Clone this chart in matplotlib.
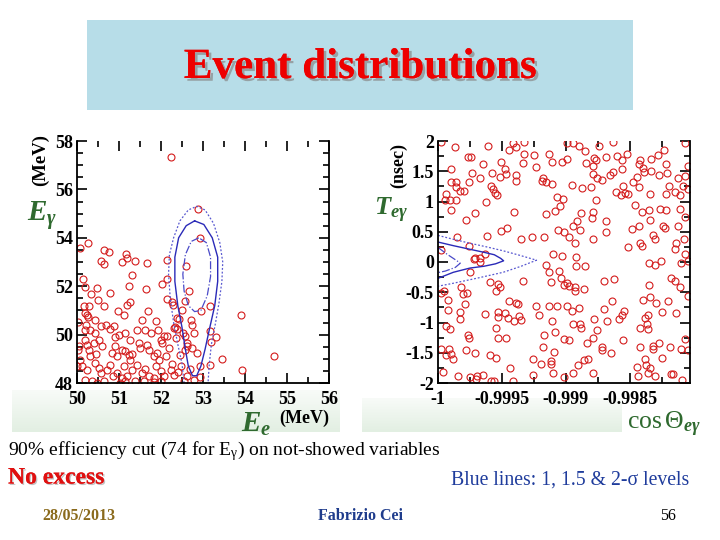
import numpy as np
import matplotlib
matplotlib.use("Agg")
import matplotlib.pyplot as plt
import matplotlib.patheffects as pe
from matplotlib.patches import Rectangle
from matplotlib.colors import LinearSegmentedColormap
from matplotlib.ticker import MultipleLocator, FixedLocator

plt.rcParams['font.family'] = ['Liberation Serif', 'DejaVu Serif']
plt.rcParams['mathtext.fontset'] = 'custom'
plt.rcParams['mathtext.rm'] = 'Liberation Serif'
plt.rcParams['mathtext.it'] = 'Liberation Serif:italic:bold'
plt.rcParams['mathtext.bf'] = 'Liberation Serif:bold'

# ---------------- data ----------------
# left panel: (E_e, E_gamma) in MeV
ee_eg_events = np.array([
    [52.24, 57.35], [52.88, 55.17], [52.92, 54.00], [50.25, 53.77], [50.06, 53.59], [50.64, 53.48],
    [50.76, 53.42], [51.17, 53.31], [51.19, 53.17], [51.07, 53.00], [50.56, 53.03], [50.65, 52.90],
    [51.37, 53.05], [51.67, 52.94], [52.15, 53.10], [52.59, 52.83], [50.14, 52.28], [51.31, 52.46],
    [50.18, 51.96], [51.23, 52.00], [50.48, 51.93], [52.15, 52.28], [52.03, 52.08], [51.65, 51.89],
    [50.33, 51.66], [50.79, 51.72], [50.16, 51.17], [50.29, 51.17], [50.50, 51.42], [51.26, 51.34],
    [51.19, 51.23], [50.64, 51.17], [50.97, 50.97], [51.13, 50.83], [51.69, 50.98], [52.15, 51.48],
    [52.27, 51.34], [52.29, 51.24], [52.66, 51.79], [52.56, 51.38], [53.16, 51.17], [52.95, 50.97],
    [53.90, 50.83], [50.20, 50.90],
    [52.50, 51.03], [52.37, 50.69], [52.42, 50.65], [52.72, 50.59], [52.74, 50.41], [52.34, 50.32],
    [52.38, 50.23], [52.53, 50.07], [52.56, 49.96], [52.78, 50.07], [53.30, 49.90], [53.20, 49.68],
    [52.61, 49.66], [52.62, 49.52], [52.58, 49.38], [52.74, 49.45], [52.86, 49.24], [53.46, 48.99],
    [52.46, 49.17], [53.94, 48.55], [54.68, 49.10], [53.16, 50.14],
    [52.70, 48.58], [52.94, 48.69], [53.16, 48.76], [52.93, 48.23], [52.54, 48.07], [52.47, 48.69],
    [52.27, 48.79], [52.23, 48.55], [52.31, 48.34], [52.78, 48.14], [52.15, 49.93], [52.31, 50.28],
    [52.35, 49.86], [52.20, 49.45], [52.12, 49.10], [52.40, 48.45], [52.62, 48.30],
    [50.02, 50.51], [50.24, 50.83], [50.26, 50.73], [50.22, 50.41], [50.42, 50.59], [50.56, 50.34],
    [50.68, 50.41], [50.78, 50.23], [50.18, 50.21], [50.32, 50.21], [50.42, 50.07], [50.87, 50.34],
    [50.90, 49.90], [50.99, 50.00], [51.15, 50.07], [51.27, 49.79], [51.43, 50.21], [51.55, 50.62],
    [51.63, 50.21], [51.75, 50.07], [51.87, 50.55], [51.93, 50.21], [51.99, 49.79], [52.07, 49.93],
    [52.03, 49.66], [50.04, 49.52], [50.02, 49.38], [50.08, 48.97], [50.00, 48.69], [50.20, 49.79],
    [50.24, 49.59], [50.29, 49.38], [50.40, 49.66], [50.52, 49.79], [50.60, 49.52], [50.45, 49.21],
    [50.32, 49.13], [50.91, 49.52], [50.83, 49.24], [50.95, 49.10], [51.07, 49.38], [51.15, 49.31],
    [51.23, 49.17], [51.31, 49.21], [51.27, 48.97], [51.47, 49.66], [51.51, 49.45], [51.67, 49.59],
    [51.71, 49.38], [51.83, 49.10], [51.91, 49.24], [51.95, 48.97], [50.12, 48.69], [50.24, 48.55],
    [50.44, 48.83], [50.52, 48.62], [50.56, 48.41], [50.72, 48.55], [50.79, 48.76], [50.85, 48.28],
    [50.95, 48.41], [51.07, 48.21], [51.19, 48.28], [51.11, 48.69], [51.31, 48.55], [51.43, 48.76],
    [51.55, 48.41], [51.63, 48.58], [51.71, 48.28], [51.83, 48.21], [51.87, 48.69], [51.99, 48.48],
    [52.07, 48.28], [50.20, 48.14], [50.36, 48.07], [50.48, 48.00], [50.64, 48.07], [51.03, 48.00],
    [51.15, 48.07], [51.39, 48.07], [51.59, 48.07], [51.83, 48.03], [51.99, 48.07],
])

# right panel: (cos(theta)+1) x 1e4 and T_e-gamma in nsec
cos_t_events = np.array([
    [0.26, 1.99], [1.30, 1.90], [2.34, 1.73], [2.60, 1.73], [3.90, 1.92], [5.90, 1.97], [5.54, 1.85],
    [6.11, 1.90], [6.76, 1.98], [6.76, 1.79], [7.49, 1.77], [8.71, 1.79], [8.92, 1.66], [1.04, 1.54],
    [3.51, 1.62], [4.94, 1.65], [5.20, 1.54], [6.68, 1.63], [7.67, 1.57], [2.68, 1.47], [4.24, 1.47],
    [4.86, 1.40], [5.33, 1.46], [6.11, 1.43], [6.06, 1.34], [3.25, 1.39], [2.39, 1.32], [1.04, 1.33],
    [1.43, 1.32], [1.38, 1.24], [1.74, 1.18], [2.00, 1.17], [4.16, 1.25], [4.29, 1.21], [4.42, 1.14],
    [4.60, 1.10], [8.24, 1.39], [8.14, 1.34], [8.45, 1.32], [8.92, 1.29], [9.31, 1.07], [0.65, 1.13],
    [0.52, 1.03], [0.96, 1.02], [1.43, 1.03], [3.72, 1.00], [1.04, 0.86], [2.91, 0.81], [5.93, 0.82],
    [8.45, 0.79], [9.18, 0.85], [2.16, 0.69], [4.94, 0.52], [5.41, 0.57], [6.50, 0.38], [7.36, 0.42],
    [8.32, 0.41], [9.36, 0.53], [1.48, 0.42], [3.82, 0.43], [0.26, 0.20], [2.39, 0.27], [9.02, 0.13],
    [2.86, 0.07], [3.25, 0.06], [2.80, 0.05], [3.70, 0.14],
    [10.06, 1.97], [10.58, 1.97], [11.05, 1.92], [11.49, 1.83], [12.61, 1.92], [13.70, 1.98],
    [13.13, 1.73], [14.01, 1.75], [14.35, 1.68], [14.74, 1.78], [15.78, 1.68], [15.73, 1.62],
    [16.69, 1.71], [17.16, 1.77], [17.65, 1.85], [17.86, 1.62], [19.29, 1.97], [19.58, 1.59],
    [9.67, 1.66], [10.06, 1.70], [11.57, 1.64], [12.09, 1.59], [12.22, 1.72], [12.35, 1.68],
    [12.14, 1.46], [12.45, 1.39], [12.79, 1.35], [13.70, 1.49], [13.44, 1.44], [14.35, 1.53],
    [15.26, 1.33], [15.57, 1.40], [15.73, 1.24], [16.04, 1.55], [16.09, 1.49], [16.69, 1.51],
    [17.26, 1.43], [17.91, 1.47], [18.77, 1.39], [19.29, 1.42], [19.16, 1.26], [19.55, 1.21],
    [18.07, 1.26], [10.45, 1.28], [11.23, 1.22], [11.93, 1.24], [12.32, 1.03], [13.91, 1.16],
    [14.30, 1.11], [14.61, 1.14], [14.87, 1.13], [14.48, 1.26], [16.56, 1.13], [17.81, 1.13],
    [18.51, 1.16], [18.90, 1.11], [9.80, 1.04], [9.54, 0.93], [15.39, 0.94], [15.91, 0.82],
    [16.51, 0.86], [17.34, 0.88], [17.81, 0.86], [18.90, 0.88], [11.15, 0.81], [12.09, 0.82],
    [12.01, 0.72], [10.84, 0.68], [10.58, 0.60], [11.10, 0.53], [13.13, 0.68], [13.13, 0.49],
    [15.13, 0.54], [15.73, 0.59], [16.56, 0.69], [17.60, 0.60], [17.73, 0.57], [18.77, 0.59],
    [19.29, 0.74], [9.85, 0.49], [10.27, 0.41], [10.71, 0.32], [12.14, 0.38], [14.87, 0.24],
    [15.78, 0.31], [15.91, 0.26], [16.82, 0.45], [16.95, 0.38], [18.64, 0.31], [18.51, 0.22],
    [19.21, 0.38], [9.67, 0.10], [10.79, 0.09], [19.29, 0.13], [19.55, 0.02],
    [3.25, 0.00], [2.47, -0.17], [8.45, -0.05], [8.71, -0.17], [9.49, -0.15], [8.84, -0.33],
    [9.62, -0.26], [9.88, -0.38], [0.26, -0.51], [0.44, -0.48], [1.82, -0.41], [2.26, -0.52],
    [1.95, -0.53], [4.03, -0.33], [4.55, -0.48], [4.81, -0.42], [4.68, -0.37], [6.68, -0.31],
    [0.78, -0.63], [0.78, -0.79], [2.08, -0.70], [1.69, -0.83], [1.74, -0.95], [3.64, -0.86],
    [4.68, -0.83], [5.20, -0.84], [4.68, -0.91], [5.46, -0.92], [5.54, -0.65], [6.11, -0.67],
    [6.24, -0.70], [5.98, -0.98], [6.37, -0.89], [6.50, -0.96], [7.67, -0.73], [7.93, -0.88],
    [8.71, -0.73], [9.28, -0.73], [8.92, -0.98], [0.65, -1.06], [0.96, -1.11], [4.55, -1.09],
    [2.34, -1.20], [2.42, -1.25], [4.68, -1.26], [5.33, -1.25], [8.32, -1.21], [9.18, -1.16],
    [8.19, -1.40], [9.10, -1.49], [9.88, -1.27], [0.26, -1.44], [0.86, -1.44], [1.04, -1.52],
    [0.65, -1.53], [1.17, -1.61], [2.21, -1.46], [2.86, -1.50], [4.03, -1.53], [4.50, -1.59],
    [5.64, -1.75], [7.41, -1.60], [8.06, -1.68], [8.84, -1.63], [8.84, -1.68], [8.97, -1.83],
    [0.39, -1.81], [1.56, -1.88], [2.52, -1.90], [3.04, -1.89], [2.94, -1.93], [3.51, -1.86],
    [4.16, -1.96], [4.34, -1.96], [5.85, -1.96], [7.41, -1.86], [9.83, -1.90],
    [10.79, -0.06], [11.49, -0.07], [10.06, -0.35], [10.27, -0.40], [10.71, -0.42], [10.71, -0.48],
    [11.41, -0.44], [13.00, -0.31], [13.75, -0.28], [16.51, -0.02], [16.95, -0.05], [17.47, 0.02],
    [19.03, -0.02], [18.25, -0.26], [18.51, -0.31], [18.95, -0.42], [16.51, -0.38], [16.56, -0.58],
    [16.04, -0.63], [17.03, -0.67], [17.99, -0.64], [19.55, -0.56], [10.06, -0.73], [10.45, -0.81],
    [11.05, -0.76], [13.57, -0.65], [12.97, -0.78], [14.56, -0.81], [14.35, -0.87], [14.17, -0.95],
    [13.18, -0.98], [12.19, -0.94], [10.58, -1.02], [11.10, -1.03], [11.15, -1.09], [12.45, -1.13],
    [12.14, -1.26], [11.62, -1.34], [10.27, -1.29], [16.43, -0.87], [16.17, -0.92], [16.30, -1.03],
    [15.83, -1.09], [16.43, -1.10], [17.55, -0.82], [18.64, -0.84], [14.48, -1.29], [12.84, -1.40],
    [12.79, -1.45], [13.49, -1.51], [15.78, -1.40], [16.82, -1.39], [16.82, -1.43], [17.29, -1.34],
    [18.12, -1.40], [19.03, -1.43], [19.29, -1.27], [19.55, -1.45], [11.41, -1.62], [11.75, -1.61],
    [10.97, -1.71], [10.53, -1.84], [12.14, -1.84], [15.57, -1.73], [16.17, -1.61], [16.25, -1.71],
    [16.56, -1.76], [16.43, -1.83], [15.65, -1.88], [17.55, -1.59], [18.25, -1.85], [18.38, -1.85],
    [16.95, -1.89], [19.05, -1.95],
])

# signal contours (1, 1.5, 2 sigma)
ee_1s = [52.90, 52.72, 52.58, 52.52, 52.55, 52.65, 52.80, 52.95, 53.10, 53.18, 53.18, 53.08, 52.90]
eg_1s = [54.00, 53.85, 53.30, 52.50, 51.80, 51.20, 50.95, 51.00, 51.60, 52.40, 53.20, 53.80, 54.00]
ee_15s = [52.80, 52.60, 52.42, 52.33, 52.33, 52.40, 52.50, 52.58, 52.65, 52.75, 52.85,
          52.95, 53.05, 53.15, 53.28, 53.35, 53.35, 53.22, 53.02, 52.80]
eg_15s = [54.70, 54.50, 54.00, 53.20, 52.20, 51.20, 50.30, 49.40, 48.70, 48.30, 48.30,
          48.70, 49.40, 50.20, 51.20, 52.20, 53.20, 54.00, 54.55, 54.70]
ee_2s = [52.55, 52.50, 52.40, 52.30, 52.22, 52.18, 52.20, 52.30, 52.45, 52.65, 52.85,
         53.05, 53.25, 53.40, 53.47, 53.45, 53.38, 53.30, 53.20, 53.15, 53.12]
eg_2s = [48.00, 48.80, 49.60, 50.50, 51.50, 52.50, 53.30, 54.00, 54.70, 55.15, 55.30,
         55.15, 54.60, 53.80, 53.00, 52.20, 51.30, 50.50, 49.60, 48.80, 48.00]

cos_1s = [0.0, 0.70, 1.48, 1.74, 1.35, 0.57, 0.0]
t_1s = [0.24, 0.13, 0.02, -0.02, -0.09, -0.15, -0.175]
cos_15s = [0.0, 1.2, 2.5, 3.6, 4.4, 4.9, 5.13, 4.5, 3.6, 2.5, 1.2, 0.0]
t_15s = [0.33, 0.27, 0.21, 0.16, 0.12, 0.06, 0.02, -0.03, -0.07, -0.10, -0.17, -0.27]
cos_2s = [0.0, 1.3, 2.5, 3.8, 5.1, 6.4, 7.7, 6.5, 5.1, 3.0, 1.0, 0.0]
t_2s = [0.44, 0.37, 0.31, 0.25, 0.185, 0.11, 0.03, -0.07, -0.17, -0.27, -0.36, -0.40]

cos_ticks = [-1, -0.9995, -0.999, -0.9985]
cos_tick_labels = ['-1', '-0.9995', '-0.999', '-0.9985']
t_ticks = [-2, -1.5, -1, -0.5, 0, 0.5, 1, 1.5, 2]
t_tick_labels = ['-2', '-1.5', '-1', '-0.5', '0', '0.5', '1', '1.5', '2']

# ---------------- figure ----------------
fig = plt.figure(figsize=(7.2, 5.4), dpi=100)
bg = fig.add_axes([0, 0, 1, 1], zorder=0)
bg.axis('off')

# title box
bg.add_patch(Rectangle((87, 20), 546, 90, color='#b7dde8', lw=0))
bg.text(360, 68, 'Event distributions', color='#ee0000', fontsize=31, fontweight='bold',
        ha='center', va='center',
        path_effects=[pe.withSimplePatchShadow(offset=(2, -2), shadow_rgbFace='#888888', alpha=0.7),
                      pe.Normal()])

# faint green strips under the plots
strip_cmap = LinearSegmentedColormap.from_list('strip', ['#f8fbf8', '#e2efe2'])
grad = np.linspace(0, 1, 50).reshape(-1, 1)
bg.imshow(grad, cmap=strip_cmap, extent=(12, 340, 432, 390), aspect='auto', zorder=0.5)
bg.imshow(grad, cmap=strip_cmap, extent=(362, 622, 432, 398), aspect='auto', zorder=0.5)
bg.set_xlim(0, 720)
bg.set_ylim(540, 0)

red = '#d41c1c'
navy = '#2a2ab8'
green = '#2f6a2f'


def style_axes(ax):
    ax.tick_params(which='both', direction='in', top=True, right=True, width=1.2)
    ax.tick_params(which='major', length=7)
    ax.tick_params(which='minor', length=4)
    ax.tick_params(axis='x', which='major', pad=6)
    ax.tick_params(axis='y', which='major', pad=3)
    ax.spines['top'].set_visible(False)
    for s in ['left', 'right', 'bottom']:
        ax.spines[s].set_linewidth(1.3)
    for lab in ax.get_xticklabels() + ax.get_yticklabels():
        lab.set_fontsize(13)
        lab.set_fontweight('bold')


# left panel
ax1 = fig.add_axes([77 / 720, 1 - 383 / 540, 252 / 720, 242 / 540], zorder=2)
ax1.plot(ee_eg_events[:, 0], ee_eg_events[:, 1], 'o', ms=5, mfc='none', mec=red, mew=0.8)
ax1.plot(ee_2s, eg_2s, color='#5858d0', lw=0.9, ls=(0, (1.5, 1.5)))
ax1.plot(ee_15s, eg_15s, color=navy, lw=1.0, ls='-')
ax1.plot(ee_1s, eg_1s, color='#4a4ac8', lw=0.9, ls='-.')
ax1.set_xlim(50, 56)
ax1.set_ylim(48, 58)
ax1.xaxis.set_major_locator(MultipleLocator(1))
ax1.xaxis.set_minor_locator(MultipleLocator(0.5))
ax1.yaxis.set_major_locator(MultipleLocator(2))
ax1.yaxis.set_minor_locator(MultipleLocator(0.5))
style_axes(ax1)

# right panel
ax2 = fig.add_axes([438 / 720, 1 - 383 / 540, 252 / 720, 242 / 540], zorder=2)
ax2.plot(-1 + cos_t_events[:, 0] * 1e-4, cos_t_events[:, 1], 'o', ms=5, mfc='none', mec=red,
         mew=0.8)
ax2.plot(-1 + np.array(cos_2s) * 1e-4, t_2s, color='#5858d0', lw=0.9, ls=(0, (1.5, 1.5)))
ax2.plot(-1 + np.array(cos_15s) * 1e-4, t_15s, color=navy, lw=1.0, ls='-')
ax2.plot(-1 + np.array(cos_1s) * 1e-4, t_1s, color='#4a4ac8', lw=0.9, ls='-.')
ax2.set_xlim(-1, -0.99803)
ax2.set_ylim(-2, 2)
ax2.xaxis.set_major_locator(FixedLocator(cos_ticks))
ax2.set_xticklabels(cos_tick_labels)
ax2.xaxis.set_minor_locator(MultipleLocator(0.00025))
ax2.yaxis.set_major_locator(FixedLocator(t_ticks))
ax2.set_yticklabels(t_tick_labels)
ax2.yaxis.set_minor_locator(MultipleLocator(0.25))
style_axes(ax2)

# axis titles
bg.text(40, 160, '(MeV)', rotation=90, ha='center', va='center', fontsize=13.5, fontweight='bold')
bg.text(42, 216, r'$E_{\gamma}$', color=green, ha='center', va='center', fontsize=21)
bg.text(256, 424, r'$E_{e}$', color=green, ha='center', va='center', fontsize=21)
bg.text(304, 418, '(MeV)', ha='center', va='center', fontsize=13, fontweight='bold')

bg.text(399, 166, '(nsec)', rotation=90, ha='center', va='center', fontsize=13, fontweight='bold')
bg.text(391, 210, r'$T_{e\gamma}$', color=green, ha='center', va='center', fontsize=19)
bg.text(627, 424, r'$\mathrm{cos}\,\Theta_{e\gamma}$', color=green, ha='left', va='center',
        fontsize=18.5)

# bottom texts
bg.text(8, 451, r'90% efficiency cut (74 for E$_{\mathrm{\gamma}}$) on not-showed variables',
        ha='left', va='center', fontsize=14)
bg.text(8, 478, 'No excess', color='#e01010', ha='left', va='center', fontsize=17,
        fontweight='bold',
        path_effects=[pe.withSimplePatchShadow(offset=(1, -1), shadow_rgbFace='#999999', alpha=0.6),
                      pe.Normal()])
bg.text(689, 480, u'Blue lines: 1, 1.5 & 2-\u03c3 levels', color='#1f3c9c', ha='right',
        va='center', fontsize=14.2)

bg.text(79, 516, '28/05/2013', color='#8a6a1c', ha='center', va='center', fontsize=11.5,
        fontweight='bold')
bg.text(360, 516, 'Fabrizio Cei', color='#1f3c8c', ha='center', va='center', fontsize=11.5,
        fontweight='bold')
bg.text(668, 516, '56', color='black', ha='center', va='center', fontsize=11.5)

fig.savefig('out.png', dpi=100)
